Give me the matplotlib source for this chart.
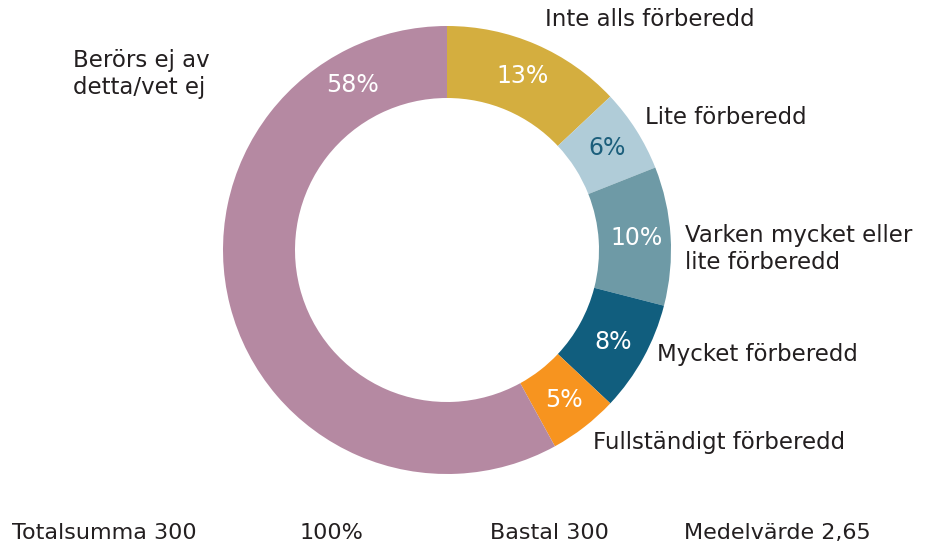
import numpy as np
import matplotlib
matplotlib.use("Agg")
import matplotlib.pyplot as plt

# data, clockwise from 12 o'clock
labels = ["Inte alls förberedd", "Lite förberedd", "Varken mycket eller\nlite förberedd",
          "Mycket förberedd", "Fullständigt förberedd", "Berörs ej av\ndetta/vet ej"]
shares = [13, 6, 10, 8, 5, 58]
colors = ["#D4AE3F", "#B0CCD8", "#6E9AA6", "#115E7E", "#F7941F", "#B589A2"]
pct_colors = ["white", "#1B5E7B", "white", "white", "white", "white"]
footer = ["Totalsumma 300", "100%", "Bastal 300", "Medelvärde 2,65"]

W, H = 946, 546
plt.rcParams['font.family'] = ['DejaVu Sans']
fig = plt.figure(figsize=(W / 100, H / 100), dpi=100)

# donut: centre (447, 250) px, outer radius 224 px, inner 152 px
cx, cy, R = 447, 250, 224
ax = fig.add_axes([(cx - R) / W, (H - cy - R) / H, 2 * R / W, 2 * R / H])
wedges, _ = ax.pie(shares, colors=colors, startangle=90, counterclock=False,
                   radius=1, wedgeprops=dict(width=(224 - 152) / 224, linewidth=0))
ax.set_xlim(-1, 1)
ax.set_ylim(-1, 1)
ax.axis('off')

# percent labels at slice middles (the big slice label sits near its top)
r_lab = 190 / 224
for i, w in enumerate(wedges):
    ang = (w.theta1 + w.theta2) / 2
    if i == 5:
        ang = 120
    a = np.deg2rad(ang)
    ax.text(r_lab * np.cos(a), r_lab * np.sin(a), f"{shares[i]}%", ha='center', va='center',
            fontsize=17, color=pct_colors[i])

# outside category labels (left edge px, centre y px)
lab_pos = [(545, 19), (645, 118), (685, 249), (657, 355), (593, 443), (73, 74)]
for txt, (x, y) in zip(labels, lab_pos):
    fig.text(x / W, 1 - y / H, txt, ha='left', va='center', fontsize=16.5,
             color="#231F20", linespacing=1.2)

# footer
foot_x = [12, 300, 490, 684]
for txt, x in zip(footer, foot_x):
    fig.text(x / W, 1 - 533 / H, txt, ha='left', va='center', fontsize=16, color="#231F20")

fig.savefig("out.png", dpi=100)
